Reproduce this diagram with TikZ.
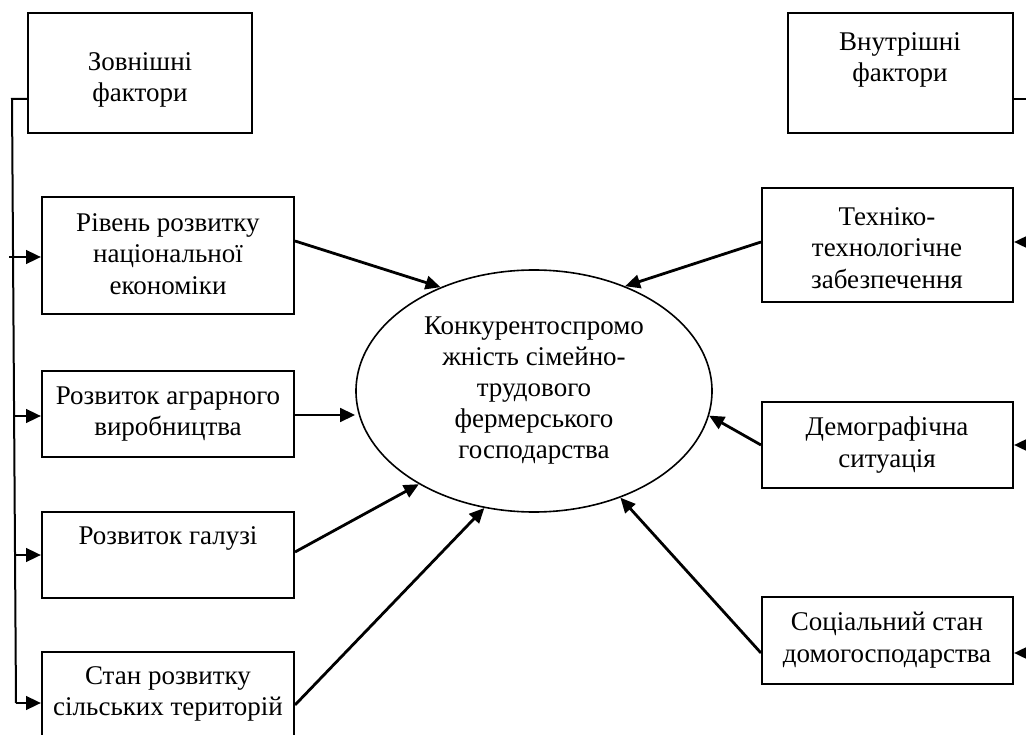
\documentclass[tikz,border=0pt]{standalone}
\usepackage{fontspec}
\setmainfont{Liberation Serif}
\usetikzlibrary{arrows.meta,shapes.geometric,calc}
\begin{document}
\begin{tikzpicture}[x=1pt,y=-1pt,
  box/.style={draw,line width=2pt,inner sep=0pt},
  txt/.style={align=center,inner sep=0pt,font=\fontsize{27}{31.5}\selectfont},
  con/.style={line width=2.8pt,-{Triangle[length=15pt,width=13.5pt]}},
  tree/.style={line width=2pt},
]
\useasboundingbox (0,0) rectangle (1026,735);
\clip (0,0) rectangle (1026,735);
\fill[white] (0,0) rectangle (1026,735);

% boxes
\node[box,minimum width=224pt,minimum height=120pt] (zov) at (140,73) {};
\node[box,minimum width=225pt,minimum height=120pt] (vnut) at (900.5,73) {};
\node[box,minimum width=252pt,minimum height=117pt] (rivn) at (168,255.5) {};
\node[box,minimum width=252pt,minimum height=86pt] (agr) at (168,414) {};
\node[box,minimum width=252pt,minimum height=86pt] (galuz) at (168,555) {};
\node[box,minimum width=252pt,minimum height=93pt] (stan) at (168,698.5) {};
\node[box,minimum width=251pt,minimum height=114pt] (tex) at (887.5,245) {};
\node[box,minimum width=251pt,minimum height=86pt] (demo) at (887.5,445) {};
\node[box,minimum width=251pt,minimum height=87pt] (soc) at (887.5,640.5) {};
\node[draw,ellipse,line width=1.6pt,minimum width=356pt,minimum height=242pt,inner sep=0pt,
  align=center,font=\fontsize{27}{31}\selectfont] (ell) at (534,391)
  {Конкурентоспромо\\жність сімейно-\\трудового\\фермерського\\господарства};

% texts
\node[txt] (tzov) at (140,80) {Зовнішні\\фактори};
\node[txt] (tvnut) at (900,60) {Внутрішні\\фактори};
\node[txt] (trivn) at (168,254) {Рівень розвитку\\національної\\економіки};
\node[txt] (tagr) at (168,414) {Розвиток аграрного\\виробництва};
\node[txt] (tgaluz) at (168,538) {Розвиток галузі};
\node[txt] (tstan) at (168,694) {Стан розвитку\\сільських територій};
\node[txt] (ttex) at (887,248) {Техніко-\\технологічне\\забезпечення};
\node[txt] (tdemo) at (887,445) {Демографічна\\ситуація};
\node[txt] (tsoc) at (887,640) {Соціальний стан\\домогосподарства};

% left tree
\coordinate (lt) at (12,99);
\coordinate (lb) at (16,703);
\coordinate (b1) at (9,257);
\coordinate (b2) at (14,416);
\coordinate (b3) at (15,555);
\draw[tree] ([yshift=-26pt]zov.west) -- (lt) -- (lb);
\draw[con] (lb) -- (stan.west |- lb);
\draw[con] (b1) -- (rivn.west |- b1);
\draw[con] (b2) -- (agr.west |- b2);
\draw[con] (b3) -- (galuz.west |- b3);

% right tree (mostly outside the page)
\coordinate (rt) at (1040,99);
\coordinate (rb) at (1040,653);
\coordinate (r1) at (1040,242);
\coordinate (r2) at (1040,445);
\draw[tree] ([yshift=-26pt]vnut.east) -- (rt) -- (rb);
\draw[con] (r1) -- (tex.east |- r1);
\draw[con] (r2) -- (demo.east |- r2);
\draw[con] (rb) -- (soc.east |- rb);

% arrows into the ellipse
\draw[con] ([yshift=14.5pt]rivn.east) -- (ell.132);
\draw[con] ([yshift=-1pt]agr.east) -- ([yshift=-1pt]agr.east -| ell.west);
\draw[con] ([yshift=3pt]galuz.east) -- (ell.219);
\draw[con] ([yshift=-6.5pt]stan.east) -- (ell.247);
\draw[con] ([yshift=3pt]tex.west) -- (ell.49);
\draw[con] (demo.west) -- (ell.352);
\draw[con] ([yshift=-12.5pt]soc.west) -- (ell.309);
\end{tikzpicture}
\end{document}
